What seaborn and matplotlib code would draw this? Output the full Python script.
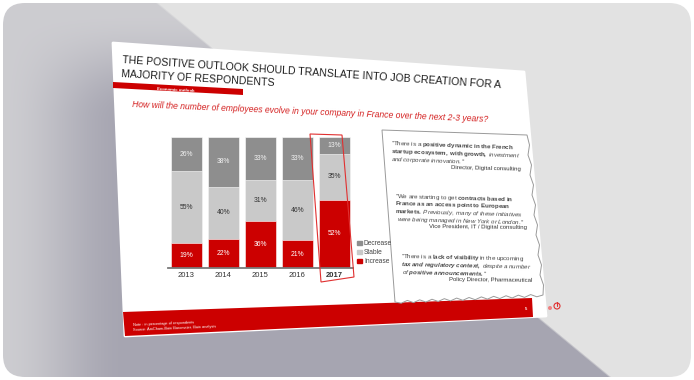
import matplotlib
matplotlib.use("Agg")
import matplotlib.pyplot as plt
import seaborn as sns
import numpy as np
import pandas as pd
from matplotlib.patches import Polygon, FancyBboxPatch, Patch, Circle

years = ["2013", "2014", "2015", "2016", "2017"]
decrease = [26, 38, 33, 33, 13]
stable = [55, 40, 31, 46, 35]
increase = [19, 22, 36, 21, 52]

RED = "#cc0000"
DARK = "#8e8e8e"
LIGHT = "#c9c9c9"

sns.set_theme(style="white")
plt.rcParams["font.family"] = ["Liberation Sans", "DejaVu Sans"]
plt.rcParams["mathtext.fontset"] = "custom"
plt.rcParams["mathtext.rm"] = "Liberation Sans"
plt.rcParams["mathtext.it"] = "Liberation Sans:italic"
plt.rcParams["mathtext.bf"] = "Liberation Sans:bold"
plt.rcParams["mathtext.bfit"] = "Liberation Sans:bold:italic"

W, H = 694, 380
fig = plt.figure(figsize=(W / 100, H / 100), dpi=100)
fig.patch.set_facecolor("white")

# background layer in pixel coordinates
bg = fig.add_axes([0, 0, 1, 1], zorder=0)
bg.set_xlim(0, W)
bg.set_ylim(H, 0)
bg.axis("off")

yy, xx = np.mgrid[0:H, 0:W] + 0.5
cross = ((xx - 157) * 374 - (yy - 3) * 453) / 587.0
t = np.clip(-cross / 2.0 + 0.5, 0, 1)
def smooth(v):
    v = np.clip(v, 0, 1)
    return v * v * (3 - 2 * v)
g = smooth(xx / 130.0) * smooth((yy - 10) / 110.0)
a = (t * (0.35 + 0.65 * g))[..., None]
light = np.array([226, 226, 226]) / 255.0
dark = np.array([166, 165, 177]) / 255.0
img = light * (1 - a) + dark * a
frame = FancyBboxPatch((25, 25), W - 50, H - 50, boxstyle="round,pad=22",
                       transform=bg.transData, facecolor="none", edgecolor="none")
bg.add_patch(frame)
im = bg.imshow(img, extent=[0, W, H, 0], aspect="auto", interpolation="bilinear")
im.set_clip_path(frame)

# slide card
bg.add_patch(Polygon([(113, 43), (524, 72), (546, 316), (125, 336)], closed=True,
                     facecolor="white", edgecolor="white", lw=2, joinstyle="round"))
# footer band
bg.add_patch(Polygon([(123, 312), (532, 298), (533, 317), (125, 336)], closed=True,
                     facecolor=RED, edgecolor="none"))
# title band
bg.add_patch(Polygon([(113, 82), (243, 89), (243, 95), (113, 88)], closed=True,
                     facecolor=RED, edgecolor="none"))

bg.text(122, 63, "THE POSITIVE OUTLOOK SHOULD TRANSLATE INTO JOB CREATION FOR A",
        fontsize=7.6, color="#1e1e1e", rotation=-3.8, rotation_mode="anchor",
        ha="left", va="baseline")
bg.text(121, 77, "MAJORITY OF RESPONDENTS", fontsize=7.6, color="#1e1e1e",
        rotation=-3.4, rotation_mode="anchor", ha="left", va="baseline")
bg.text(157, 90, "Economic outlook", fontsize=3.2, color="white", weight="bold",
        rotation=-3, rotation_mode="anchor", ha="left", va="baseline")
bg.text(132, 107, "How will the number of employees evolve in your company in France over the next 2-3 years?",
        fontsize=6.2, color="#d42020", style="italic", rotation=-2.4,
        rotation_mode="anchor", ha="left", va="baseline")

bg.text(133, 326, "Note : in percentage of respondents", fontsize=2.8, color="white",
        rotation=2.4, rotation_mode="anchor", ha="left", va="baseline")
bg.text(133, 331, "Source: AmCham-Bain Barometer; Bain analysis", fontsize=2.8, color="white",
        rotation=2.4, rotation_mode="anchor", ha="left", va="baseline")
bg.text(526, 309, "5", fontsize=3, color="white", weight="bold", ha="center", va="center")
bg.add_patch(Circle((557, 306), 3, facecolor="none", edgecolor="#e03030", lw=0.8))
bg.plot([557, 557], [302, 306], color="#e03030", lw=0.8)
bg.add_patch(Circle((550, 308), 2, facecolor="#f08080", edgecolor="none"))

# quote box with torn right and bottom edge
right = [(527, 135)]
for k in range(1, 16):
    f = k / 16
    x = 527 + (543 - 527) * f + (1.5 if k % 2 else -1.0)
    y = 135 + (295 - 135) * f
    right.append((x, y))
right.append((543, 295))
bottom = []
for k in range(1, 24):
    f = k / 24
    x = 543 + (395 - 543) * f
    y = 295 + (302 - 295) * f + (1.5 if k % 2 else -1.0)
    bottom.append((x, y))
box = [(382, 130)] + right + bottom + [(395, 302)]
bg.add_patch(Polygon(box, closed=True, facecolor="white", edgecolor="#9a9a9a", lw=0.7))


def rich(segs):
    out = ""
    for style, txt in segs:
        if style == "r":
            out += txt
        else:
            cmd = {"b": r"\mathbf", "i": r"\mathit", "bi": r"\mathbfit"}[style]
            out += "$" + cmd + "{" + txt.replace(" ", r"\ ") + "}$"
    return out


quotes = [
    (391, 145, -2.0, [("r", '"There is a '), ("b", "positive dynamic in the French")]),
    (391, 153, -2.0, [("b", "startup ecosystem, with growth,"), ("r", " "), ("i", "investment")]),
    (391, 161, -2.0, [("i", "and corporate innovation."), ("r", '"')]),
    (395, 198, -1.6, [("r", '"We are starting to get '), ("b", "contracts based in")]),
    (395, 205.5, -1.6, [("b", "France as an access point to European")]),
    (395, 213, -1.6, [("b", "markets."), ("r", " "), ("i", "Previously, many of these initiatives")]),
    (397, 221, -1.5, [("i", "were being managed in New York or London."), ("r", '"')]),
    (401, 258, -1.2, [("r", '"There is a '), ("b", "lack of visibility"), ("r", " in the upcoming")]),
    (401, 266, -1.2, [("bi", "tax and regulatory context,"), ("r", " "), ("i", "despite a number")]),
    (402, 274, -1.2, [("i", "of"), ("r", " "), ("bi", "positive announcements."), ("r", '"')]),
]
for x, y, rot, segs in quotes:
    bg.text(x, y, rich(segs), fontsize=4.4, color="#444444", rotation=rot,
            rotation_mode="anchor", ha="left", va="baseline")

for x, y, rot, txt in [(521, 171, -1.4, "Director, Digital consulting"),
                       (527, 229.5, -0.6, "Vice President, IT / Digital consulting"),
                       (532, 282, -0.6, "Policy Director, Pharmaceutical")]:
    bg.text(x, y, txt, fontsize=4.3, color="#333333", rotation=rot,
            rotation_mode="anchor", ha="right", va="baseline")

# stacked bar chart
ax = fig.add_axes([168 / W, 1 - 268 / H, 185 / W, 131 / H], zorder=1)
ax.patch.set_alpha(0)
df = pd.DataFrame({"year": years, "decrease": decrease, "stable": stable, "increase": increase})
df["top"] = df["decrease"] + df["stable"] + df["increase"]
df["mid"] = df["stable"] + df["increase"]
sns.barplot(data=df, x="year", y="top", color=DARK, saturation=1, width=0.84, ax=ax,
            edgecolor="white", linewidth=0.4)
sns.barplot(data=df, x="year", y="mid", color=LIGHT, saturation=1, width=0.84, ax=ax,
            edgecolor="white", linewidth=0.4)
sns.barplot(data=df, x="year", y="increase", color=RED, saturation=1, width=0.84, ax=ax,
            edgecolor="white", linewidth=0.4)

for i, row in df.iterrows():
    ax.text(i, row["increase"] / 2, f"{row['increase']}%", ha="center", va="center",
            fontsize=4.9, color="white")
    ax.text(i, row["increase"] + row["stable"] / 2, f"{row['stable']}%", ha="center",
            va="center", fontsize=4.9, color="#333333")
    ax.text(i, row["mid"] + row["decrease"] / 2, f"{row['decrease']}%", ha="center",
            va="center", fontsize=4.9, color="#f2f2f2")

ax.set_xlim(-0.5, 4.5)
ax.set_ylim(0, 100)
ax.set_xlabel("")
ax.set_ylabel("")
ax.set_yticks([])
sns.despine(ax=ax, left=True)
ax.spines["bottom"].set_color("#7a7a7a")
ax.spines["bottom"].set_linewidth(1.3)
ax.tick_params(axis="x", length=0, pad=3, labelsize=5.5, labelcolor="#333333")
for lab in ax.get_xticklabels():
    if lab.get_text() == "2017":
        lab.set_fontweight("bold")

fig.legend(handles=[Patch(color=DARK, label="Decrease"), Patch(color=LIGHT, label="Stable"),
                    Patch(color=RED, label="Increase")],
           loc="upper left", bbox_to_anchor=(354 / W, 1 - 237 / H), frameon=False,
           fontsize=4.8, handlelength=0.7, handleheight=0.7, labelspacing=0.3,
           handletextpad=0.3, borderpad=0, labelcolor="#444444")

# highlight frame round 2017
ov = fig.add_axes([0, 0, 1, 1], zorder=2)
ov.set_xlim(0, W)
ov.set_ylim(H, 0)
ov.axis("off")
ov.patch.set_alpha(0)
ov.add_patch(Polygon([(310, 134), (342, 135), (354, 277), (321, 282)], closed=True,
                     facecolor="none", edgecolor="#e03030", lw=0.8))

fig.savefig("out.png", dpi=100)
